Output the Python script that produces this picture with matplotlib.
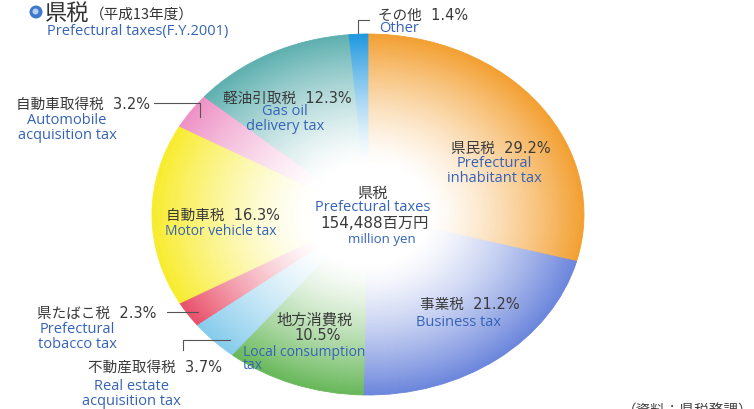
import matplotlib
matplotlib.use("Agg")
import matplotlib.pyplot as plt
from matplotlib.patches import Ellipse
import numpy as np

# ---- data ----
labels_jp = ["県民税", "事業税", "地方消費税", "不動産取得税", "県たばこ税",
             "自動車税", "自動車取得税", "軽油引取税", "その他"]
labels_en = ["Prefectural\ninhabitant tax", "Business tax", "Local consumption\ntax",
             "Real estate\nacquisition tax", "Prefectural\ntobacco tax",
             "Motor vehicle tax", "Automobile\nacquisition tax", "Gas oil\ndelivery tax", "Other"]
shares = [29.2, 21.2, 10.5, 3.7, 2.3, 16.3, 3.2, 12.3, 1.4]
total_million_yen = "154,488"
title_jp = "県税"
title_year = "（平成13年度）"
title_en = "Prefectural taxes(F.Y.2001)"
source = "（資料：県税務課）"

# ---- style ----
edge_colors = ["#F3A032", "#6C86DC", "#68B85A", "#86CCEC", "#E9506A",
               "#F8EC2E", "#EE92C6", "#5FB0B0", "#1E98E0"]
JP = ["Noto Sans CJK JP", "DejaVu Sans"]
JPN = ["DejaVu Sans", "Noto Sans CJK JP"]   # wide digits, CJK fallback
EN = ["Open Sans", "DejaVu Sans"]
jp_col = "#3a3a3a"
en_col = "#3563b8"

W, H = 754, 410
fig = plt.figure(figsize=(W / 100, H / 100), dpi=100)
fig.patch.set_facecolor("white")

# pie axes (ellipse: x 152..584, y 35..396)
ax = fig.add_axes([152 / W, 1 - 396 / H, 432 / W, 361 / H])

def to_rgb(h):
    h = h.lstrip("#")
    return np.array([int(h[i:i + 2], 16) / 255 for i in (0, 2, 4)])

base = [to_rgb(c) for c in edge_colors]
N = 90
for k in range(N):
    r = 1.0 - k / N
    t = np.clip((r - 0.28) / 0.72, 0, 1) ** 1.35
    cols = [tuple(1 - t * (1 - b)) for b in base]
    wedges, _ = ax.pie(shares, radius=r, colors=cols, startangle=90,
                       counterclock=False, wedgeprops=dict(linewidth=0))
    for w in wedges:
        w.set_edgecolor(w.get_facecolor())
        w.set_linewidth(0.6)
ax.set_xlim(-1, 1)
ax.set_ylim(-1, 1)
ax.set_aspect("auto")
ax.axis("off")

def ftxt(x, y, s, **kw):
    fig.text(x / W, 1 - y / H, s, **kw)

# ---- title ----
fig.add_artist(Ellipse((36 / W, 1 - 13 / H), 13 / W, 13 / H, transform=fig.transFigure,
                       facecolor="#3f78cc", edgecolor="none"))
fig.add_artist(Ellipse((35.5 / W, 1 - 12.5 / H), 6 / W, 6 / H, transform=fig.transFigure,
                       facecolor="#b5d0f2", edgecolor="none"))
ftxt(45, 14, title_jp, color="#333333", fontsize=16, ha="left", va="center", family=JP)
ftxt(90, 15, title_year, color="#333333", fontsize=10.5, ha="left", va="center", family=JP)
ftxt(47, 31, title_en, color=en_col, fontsize=10.5, ha="left", va="center", family=EN)

# ---- slice labels (layout positions) ----
# (x_jp, y_jp, x_en, y_en, en_size)
pos = {
    0: (501, 148, 494, 171, 10.5),
    1: (470, 304, 458, 323, 10.5),
    3: (155, 367, 131, 394, 10.5),
    4: (97, 313, 77, 337, 10.5),
    5: (223, 215, 221, 232, 10),
    6: (83, 104, 67, 128, 10.5),
    7: (287, 98, 285, 119, 10.5),
    8: (423, 15, 399, 29, 10.5),
}
for i, (x, yj, ex, ye, es) in pos.items():
    ftxt(x, yj, f"{labels_jp[i]}  {shares[i]}%", color=jp_col, fontsize=10.5,
         ha="center", va="center", family=JPN)
    ftxt(ex, ye, labels_en[i], color=en_col, fontsize=es, ha="center", va="center",
         family=EN, linespacing=0.95)

# local consumption tax (split layout)
ftxt(315, 320, labels_jp[2], color=jp_col, fontsize=11, ha="center", va="center", family=JP)
ftxt(318, 336, f"{shares[2]}%", color=jp_col, fontsize=10.5, ha="center", va="center", family=JPN)
ftxt(243, 359, labels_en[2], color=en_col, fontsize=10, ha="left", va="center",
     family=EN, linespacing=0.85)

# center text
ftxt(373, 193, title_jp, color=jp_col, fontsize=11, ha="center", va="center", family=JP)
ftxt(373, 208, "Prefectural taxes", color=en_col, fontsize=10.5, ha="center", va="center", family=EN)
ftxt(375, 224, f"{total_million_yen}百万円", color=jp_col, fontsize=11, ha="center", va="center", family=JPN)
ftxt(382, 240, "million yen", color=en_col, fontsize=9.5, ha="center", va="center", family=EN)

# source (clipped at bottom, as in the reference)
ftxt(688, 412, source, color="#444444", fontsize=10.5, ha="center", va="center", family=JP)

# ---- leader lines (figure pixel coords) ----
def fline(xs, ys):
    fig.add_artist(plt.Line2D([x / W for x in xs], [1 - y / H for y in ys],
                              color="#555555", linewidth=0.8))

fline([358, 358, 369], [34, 21, 21])
fline([154, 200, 200], [104, 104, 118])
fline([167, 198], [313, 313])
fline([183, 183, 230], [351, 341, 341])

fig.savefig("out.png", dpi=100)
